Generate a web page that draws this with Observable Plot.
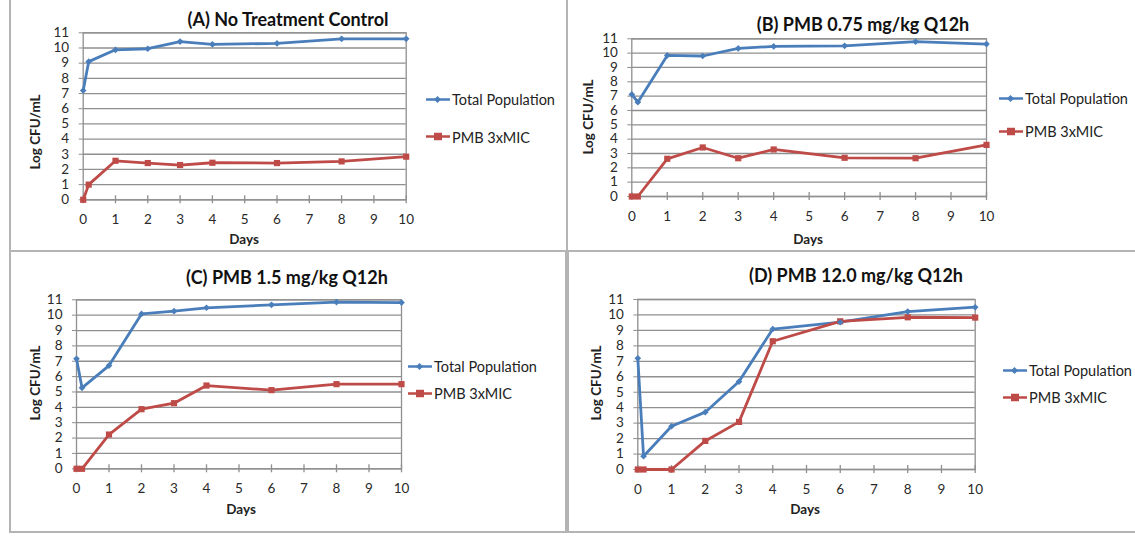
<!DOCTYPE html>
<html>
<head>
<meta charset="utf-8">
<script src="https://cdn.jsdelivr.net/npm/d3@7"></script>
<script src="https://cdn.jsdelivr.net/npm/@observablehq/plot@0.6"></script>
<style>
  html, body { margin: 0; padding: 0; background: #fff; }
  #root { position: relative; width: 1135px; height: 537px; overflow: hidden; font-family: Lato, "Open Sans", sans-serif; }
  .box { position: absolute; border: 2px solid #b4b4b4; box-sizing: border-box; }
  .plot { position: absolute; }
  .title { position: absolute; font-weight: bold; font-size: 18px; color: #111; white-space: nowrap; transform: translate(-50%, -50%); }
  .ylab { position: absolute; font-weight: bold; font-size: 13.5px; color: #222; white-space: nowrap; transform: translate(-50%, -50%) rotate(-90deg); }
  .xlab { position: absolute; font-weight: bold; font-size: 13.5px; color: #222; white-space: nowrap; transform: translate(-50%, -50%); }
  .leg { position: absolute; font-size: 14.5px; color: #222; white-space: nowrap; display: flex; align-items: center; transform: translateY(-50%); }
  .leg svg { margin-right: 2px; }
</style>
</head>
<body>
<div id="root"></div>
<script>
// ---------- data ----------
const days = [0, 0.17, 1, 2, 3, 4, 6, 8, 10];
const seriesNames = ["Total Population", "PMB 3xMIC"];
const panelTitles = ["(A) No Treatment Control", "(B) PMB 0.75 mg/kg Q12h", "(C) PMB 1.5 mg/kg Q12h", "(D) PMB 12.0 mg/kg Q12h"];
const totalA = [7.2, 9.1, 9.88, 9.95, 10.42, 10.24, 10.3, 10.6, 10.6];
const pmbA   = [0, 1.0, 2.57, 2.42, 2.29, 2.44, 2.42, 2.53, 2.84];
const totalB = [7.12, 6.58, 9.84, 9.8, 10.33, 10.47, 10.51, 10.8, 10.63];
const pmbB   = [0, 0, 2.63, 3.42, 2.67, 3.28, 2.7, 2.67, 3.6];
const totalC = [7.16, 5.27, 6.72, 10.08, 10.26, 10.48, 10.67, 10.85, 10.82];
const pmbC   = [0, 0, 2.23, 3.88, 4.27, 5.42, 5.12, 5.51, 5.51];
const totalD = [7.2, 0.86, 2.8, 3.71, 5.69, 9.09, 9.53, 10.22, 10.5];
const pmbD   = [0, 0, 0, 1.85, 3.08, 8.3, 9.59, 9.85, 9.83];
const xTicks = [0, 1, 2, 3, 4, 5, 6, 7, 8, 9, 10];
const yTicks = [0, 1, 2, 3, 4, 5, 6, 7, 8, 9, 10, 11];
const xLabel = "Days";
const yLabel = "Log CFU/mL";
const seriesColors = ["#4A7EBB", "#BE4B48"];
const seriesSymbols = ["diamond2", "square"];

const panelSeries = [[totalA, pmbA], [totalB, pmbB], [totalC, pmbC], [totalD, pmbD]];

// ---------- layout (page pixels) ----------
const layout = [
  {box: [9, -2, 559, 254], frame: [82.7, 405.7, 32.3, 199.3], title: [288, 19], ylab: [35, 132], xlab: [244, 239], leg: [426, 99, 136.5]},
  {box: [566, -2, 572, 254], frame: [631.3, 986, 38.3, 196], title: [863, 24], ylab: [588, 117], xlab: [808, 239], leg: [999, 98, 131]},
  {box: [9, 250, 558, 283], frame: [76, 401, 299.3, 468.3], title: [287, 277], ylab: [35, 383], xlab: [241, 509], leg: [408, 366, 393]},
  {box: [567, 250, 572, 283], frame: [637.3, 974.7, 299, 469], title: [856, 275], ylab: [596, 383], xlab: [805, 509], leg: [1003, 370, 397]}
];

const root = document.getElementById("root");

function el(cls, text, x, y) {
  const d = document.createElement("div");
  d.className = cls;
  d.textContent = text;
  d.style.left = x + "px";
  d.style.top = y + "px";
  root.appendChild(d);
  return d;
}

panelSeries.forEach((series, p) => {
  const L = layout[p];
  const [bx, by, bw, bh] = L.box;
  const box = document.createElement("div");
  box.className = "box";
  Object.assign(box.style, {left: bx + "px", top: by + "px", width: bw + "px", height: bh + "px"});
  root.appendChild(box);

  const [fx0, fx1, fyTop, fyBot] = L.frame;
  const data = [];
  series.forEach((vals, s) => vals.forEach((v, i) => data.push({day: days[i], value: v, series: seriesNames[s]})));

  const chart = Plot.plot({
    width: bw, height: bh,
    marginLeft: fx0 - bx, marginRight: bx + bw - fx1,
    marginTop: fyTop - by, marginBottom: by + bh - fyBot,
    x: {domain: [0, 10]},
    y: {domain: [0, 11]},
    color: {domain: seriesNames, range: seriesColors},
    symbol: {domain: seriesNames, range: seriesSymbols},
    style: {fontFamily: "Lato, 'Open Sans', sans-serif", fontSize: "13.5px", color: "#333", background: "transparent", overflow: "visible"},
    marks: [
      Plot.gridY(yTicks, {stroke: "#8f8f8f", strokeOpacity: 1, strokeWidth: 1.3}),
      Plot.frame({stroke: "#8f8f8f", strokeWidth: 1.3}),
      Plot.axisY(yTicks, {tickSize: 4, tickPadding: 10, stroke: "#8f8f8f", label: null, fill: "#2a2a2a"}),
      Plot.axisX(xTicks, {tickSize: 0, tickPadding: 15, label: null, fill: "#2a2a2a"}),
      Plot.ruleX(xTicks, {x: d => d, y1: 0, y2: 0, insetTop: -4, insetBottom: -4, stroke: "#8f8f8f", strokeWidth: 1.3}),
      Plot.line(data, {x: "day", y: "value", z: "series", stroke: "series", strokeWidth: 2.8}),
      Plot.dot(data, {x: "day", y: "value", fill: "series", symbol: "series", r: d => d.series === seriesNames[1] ? 4.6 : 3.4, stroke: "none"})
    ]
  });
  chart.classList.add("plot");
  chart.style.left = bx + "px";
  chart.style.top = by + "px";
  root.appendChild(chart);

  el("title", panelTitles[p], L.title[0], L.title[1]);
  el("ylab", yLabel, L.ylab[0], L.ylab[1]);
  el("xlab", xLabel, L.xlab[0], L.xlab[1]);

  seriesNames.forEach((name, s) => {
    const d = document.createElement("div");
    d.className = "leg";
    d.style.left = L.leg[0] + "px";
    d.style.top = L.leg[1 + s] + "px";
    const sym = s === 0
      ? `<rect x="9" y="1.5" width="5" height="5" transform="rotate(45 11.5 4)" fill="${seriesColors[s]}"/>`
      : `<rect x="8" y="0" width="8" height="8" fill="${seriesColors[s]}"/>`;
    d.innerHTML = `<svg width="24" height="8"><line x1="0" y1="4" x2="24" y2="4" stroke="${seriesColors[s]}" stroke-width="2.6"/>${sym}</svg><span></span>`;
    d.querySelector("span").textContent = name;
    root.appendChild(d);
  });
});
</script>
</body>
</html>
